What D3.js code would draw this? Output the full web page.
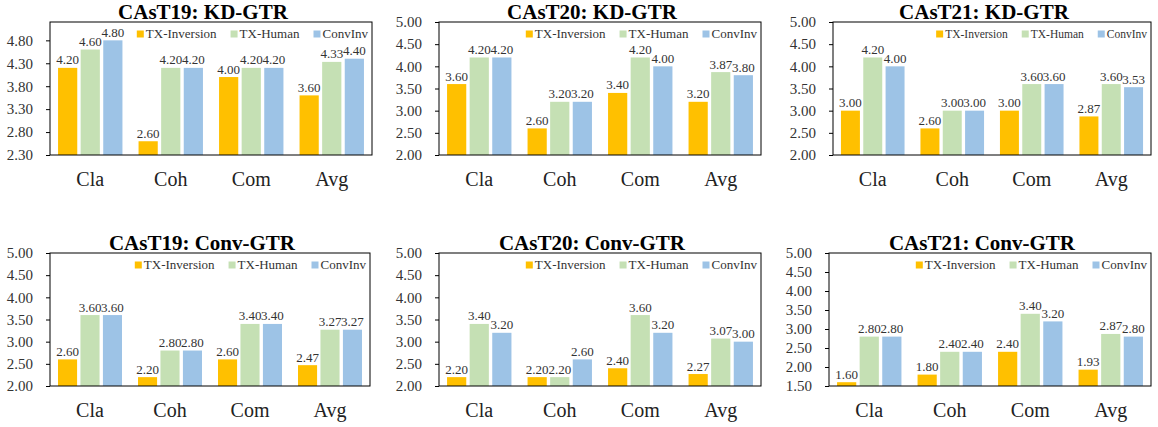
<!DOCTYPE html>
<html>
<head>
<meta charset="utf-8">
<script src="https://cdn.jsdelivr.net/npm/d3@7"></script>
<style>
  html, body { margin: 0; padding: 0; background: #fff; }
</style>
</head>
<body>
<div id="chart"></div>
<script>
// categories and series
const categories = ['Cla', 'Coh', 'Com', 'Avg']
const seriesNames = ['TX-Inversion', 'TX-Human', 'ConvInv']
const colors = ['#FFC000', '#C5E0B4', '#9DC3E6']

// panel titles
const panelTitles = [
  'CAsT19: KD-GTR', 'CAsT20: KD-GTR', 'CAsT21: KD-GTR',
  'CAsT19: Conv-GTR', 'CAsT20: Conv-GTR', 'CAsT21: Conv-GTR',
]

// values per panel, one row per series (TX-Inversion, TX-Human, ConvInv)
const cast19Kd = [
  [4.20, 2.60, 4.00, 3.60],
  [4.60, 4.20, 4.20, 4.33],
  [4.80, 4.20, 4.20, 4.40],
]
const cast20Kd = [
  [3.60, 2.60, 3.40, 3.20],
  [4.20, 3.20, 4.20, 3.87],
  [4.20, 3.20, 4.00, 3.80],
]
const cast21Kd = [
  [3.00, 2.60, 3.00, 2.87],
  [4.20, 3.00, 3.60, 3.60],
  [4.00, 3.00, 3.60, 3.53],
]
const cast19Conv = [
  [2.60, 2.20, 2.60, 2.47],
  [3.60, 2.80, 3.40, 3.27],
  [3.60, 2.80, 3.40, 3.27],
]
const cast20Conv = [
  [2.20, 2.20, 2.40, 2.27],
  [3.40, 2.20, 3.60, 3.07],
  [3.20, 2.60, 3.20, 3.00],
]
const cast21Conv = [
  [1.60, 1.80, 2.40, 1.93],
  [2.80, 2.40, 3.40, 2.87],
  [2.80, 2.40, 3.20, 2.80],
]
const panelValues = [cast19Kd, cast20Kd, cast21Kd, cast19Conv, cast20Conv, cast21Conv]

// axis ranges (min, max) and tick step
const yMins = [2.3, 2.0, 2.0, 2.0, 2.0, 1.5]
const yMaxes = [5.2, 5.0, 5.0, 5.0, 5.0, 5.0]
const tickStep = 0.5

// plot area of each panel
const layout = [
  { left: 50, right: 372, top: 22, bottom: 155, legendSize: 13 },
  { left: 439, right: 761, top: 22, bottom: 155, legendSize: 13 },
  { left: 833, right: 1151, top: 22, bottom: 155, legendSize: 11.5 },
  { left: 50, right: 370, top: 253, bottom: 386, legendSize: 13 },
  { left: 439, right: 761, top: 253, bottom: 386, legendSize: 13 },
  { left: 829, right: 1151, top: 253, bottom: 386, legendSize: 13 },
]

const width = 1158
const height = 427
const serif = "'Liberation Serif', 'Times New Roman', Times, serif"

const svg = d3
  .select('#chart')
  .append('svg')
  .attr('width', width)
  .attr('height', height)
  .style('font-family', serif)

const fmt = d3.format('.2f')

panelValues.forEach((values, p) => {
  const { left, right, top, bottom, legendSize } = layout[p]
  const g = svg.append('g').attr('class', 'panel')

  const x0 = d3
    .scaleBand()
    .domain(categories)
    .range([left, right])
    .paddingInner(0.2)
    .paddingOuter(0.1)
  const x1 = d3
    .scaleBand()
    .domain(seriesNames)
    .range([0, x0.bandwidth()])
    .paddingInner(0.15)
  const y = d3.scaleLinear().domain([yMins[p], yMaxes[p]]).range([bottom, top])

  const ticks = d3.range(yMins[p], yMaxes[p] + 1e-9, tickStep)

  // y axis
  const yAxis = g
    .append('g')
    .attr('transform', `translate(${left},0)`)
    .call(
      d3.axisLeft(y)
        .tickValues(ticks)
        .tickFormat(fmt)
        .tickSize(4)
        .tickPadding(13)
    )
  yAxis.attr('font-family', null).attr('font-size', null)
  yAxis.select('.domain').remove()
  yAxis.selectAll('line').attr('stroke', '#000')
  yAxis
    .selectAll('text')
    .attr('fill', '#333')
    .style('font-size', '15px')
    .style('font-family', serif)

  // bars
  const rows = []
  values.forEach((row, s) => {
    row.forEach((v, c) => rows.push({ s, c, v }))
  })

  g.selectAll('rect.bar')
    .data(rows)
    .join('rect')
    .attr('class', 'bar')
    .attr('x', d => x0(categories[d.c]) + x1(seriesNames[d.s]))
    .attr('y', d => y(d.v))
    .attr('width', x1.bandwidth())
    .attr('height', d => bottom - y(d.v))
    .attr('fill', d => colors[d.s])

  // value labels
  g.selectAll('text.val')
    .data(rows)
    .join('text')
    .attr('class', 'val')
    .attr('x', d => x0(categories[d.c]) + x1(seriesNames[d.s]) + x1.bandwidth() / 2)
    .attr('y', d => y(d.v) - 3.5)
    .attr('text-anchor', 'middle')
    .attr('fill', '#333')
    .style('font-family', serif)
    .style('font-size', '13px')
    .text(d => fmt(d.v))

  // plot border
  g.append('rect')
    .attr('x', left)
    .attr('y', top)
    .attr('width', right - left)
    .attr('height', bottom - top)
    .attr('fill', 'none')
    .attr('stroke', '#000')
    .attr('stroke-width', 1)

  // category labels
  g.selectAll('text.cat')
    .data(categories)
    .join('text')
    .attr('class', 'cat')
    .attr('x', d => x0(d) + x0.bandwidth() / 2)
    .attr('y', bottom + 31)
    .attr('text-anchor', 'middle')
    .attr('fill', '#222')
    .style('font-family', serif)
    .style('font-size', '20px')
    .text(d => d)

  // title
  g.append('text')
    .attr('x', (left + right) / 2 - 8)
    .attr('y', top - 3)
    .attr('text-anchor', 'middle')
    .attr('fill', '#000')
    .style('font-family', serif)
    .style('font-size', '21px')
    .style('font-weight', 'bold')
    .text(panelTitles[p])

  // legend, laid out left to right then right-aligned in the plot
  const legend = g.append('g')
  let cursor = 0
  seriesNames.forEach((name, s) => {
    const item = legend.append('g').attr('transform', `translate(${cursor},0)`)
    item.append('rect')
      .attr('x', 0)
      .attr('y', -3.5)
      .attr('width', 7)
      .attr('height', 7)
      .attr('fill', colors[s])
    const t = item.append('text')
      .attr('x', 9)
      .attr('y', legendSize * 0.33)
      .attr('fill', '#333')
      .style('font-family', serif)
      .style('font-size', `${legendSize}px`)
      .text(name)
    cursor += 9 + t.node().getComputedTextLength() + 14
  })
  const legendWidth = cursor - 14
  legend.attr('transform', `translate(${right - 4 - legendWidth},${top + 12})`)
})
</script>
</body>
</html>
